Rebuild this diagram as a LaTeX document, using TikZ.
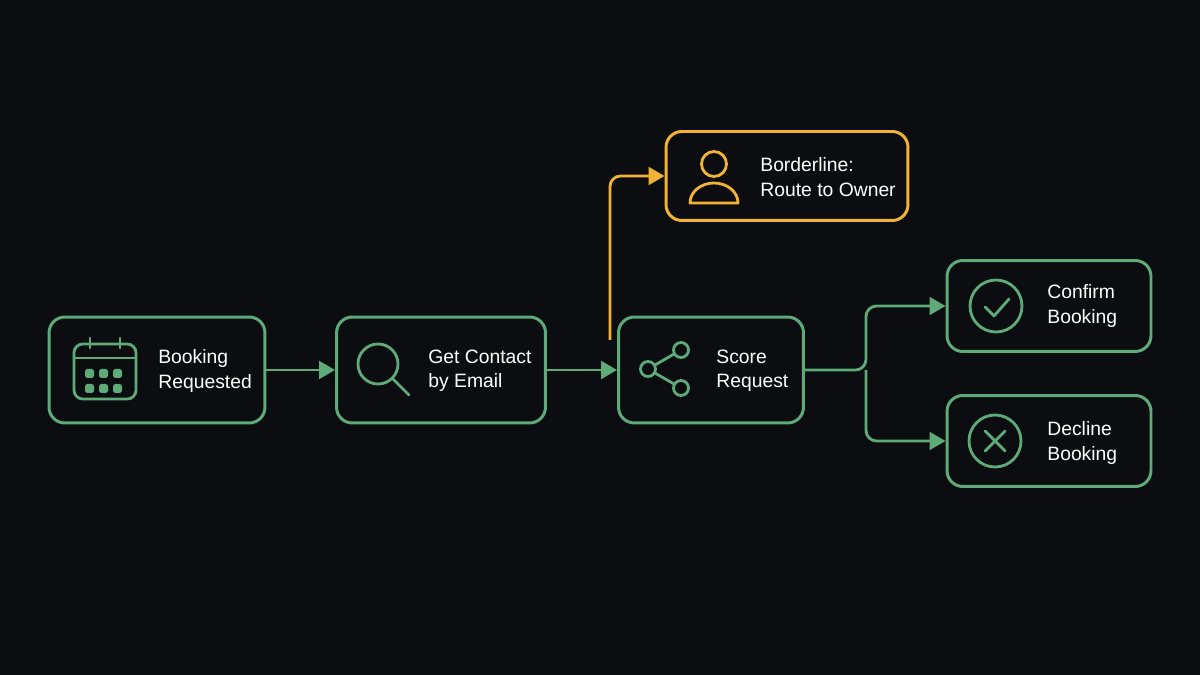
\documentclass[tikz,border=0pt]{standalone}
\usepackage{fontspec}
\setmainfont{Liberation Sans}
\usetikzlibrary{arrows.meta,positioning,calc}
\definecolor{bgdark}{HTML}{0B0D10}
\definecolor{mygreen}{HTML}{5EAA78}
\definecolor{myorange}{HTML}{F2B233}

\tikzset{
  box/.style={draw=mygreen, line width=1.7pt, rounded corners=9pt, minimum height=2.12cm},
  obox/.style={box, draw=myorange, minimum height=1.78cm},
  lbl/.style={text=white, align=left, anchor=west, font=\fontsize{11}{13.8}\selectfont, inner sep=0},
  icon/.style={draw=mygreen, line width=1.6pt, line cap=round},
  flow/.style={draw=mygreen, line width=1.6pt, rounded corners=6pt, -{Triangle[length=9pt,width=10pt]}},
}

\begin{document}
\begin{tikzpicture}[x=0.02cm,y=-0.02cm]
\fill[bgdark] (0,0) rectangle (1200,675);
\useasboundingbox (0,0) rectangle (1200,675);

% boxes
\node [box, minimum width=4.32cm] (booking) at (157,370) {};
\node [box, minimum width=4.18cm] (contact) at (441,370) {};
\node [box, minimum width=3.70cm] (score) at (711,370) {};
\node [obox, minimum width=4.84cm] (owner) at (787,176) {};
\node [box, minimum width=4.08cm, minimum height=1.82cm] (confirm) at (1049,306) {};
\node [box, minimum width=4.08cm, minimum height=1.82cm] (decline) at (1049,441) {};

% labels
\node [lbl] (bookingtxt) at (158,371) {Booking\\Requested};
\node [lbl] (contacttxt) at (428,371) {Get Contact\\by Email};
\node [lbl] (scoretxt) at (716,371) {Score\\Request};
\node [lbl] (ownertxt) at (760,177) {Borderline:\\Route to Owner};
\node [lbl] (confirmtxt) at (1047,306) {Confirm\\Booking};
\node [lbl] (declinetxt) at (1047,443) {Decline\\Booking};

% icons
\draw[icon, rounded corners=5pt] (74,344) rectangle (136,399);
\draw[icon] (74,358) -- (136,358);
\draw[icon] (90,338) -- (90,348) (120,338) -- (120,348);
\foreach \i in {0,1,2} \foreach \j in {0,1}
  \fill[mygreen, rounded corners=1pt] (85+\i*14,369+\j*15) rectangle ++(9,9);
\draw[icon] (378,364) circle (20);
\draw[icon] (392,378) -- (409,395);
\draw[icon] (648,369) -- (681,350) (648,369) -- (681,388);
\foreach \p in {(648,369),(681,350),(681,388)}
  \draw[icon, fill=bgdark] \p circle (7.5);
\draw[draw=myorange, line width=1.6pt] (714,164) circle (12.5);
\draw[draw=myorange, line width=1.6pt, line join=round] (690,203) arc (180:360:24 and 20) -- cycle;
\draw[icon] (996,306) circle (26);
\draw[icon, line join=round] (985,307) -- (994,316) -- (1009,299);
\draw[icon] (995,441) circle (26);
\draw[icon] (985,431) -- (1005,451) (1005,431) -- (985,451);

% connectors
\coordinate (split) at (866,370);
\coordinate (up) at (610,340);
\draw[flow] (booking.east) -- (contact.west);
\draw[flow] (contact.east) -- (score.west);
\draw[flow, draw=myorange] (up) |- (owner.west);
\draw[flow] (score.east) -- (split) |- (confirm.west);
\draw[flow] (split) |- (decline.west);
\end{tikzpicture}
\end{document}
